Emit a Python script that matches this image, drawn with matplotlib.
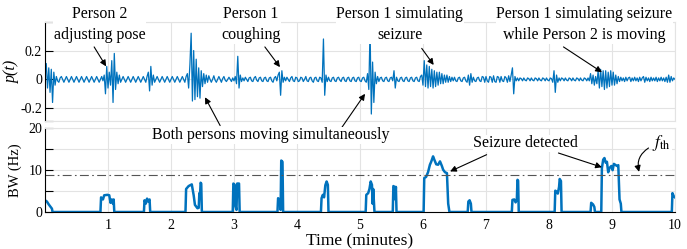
import numpy as np
import matplotlib
matplotlib.use("Agg")
import matplotlib.pyplot as plt

plt.rcParams['font.family'] = ['Liberation Serif', 'DejaVu Serif']
plt.rcParams['mathtext.fontset'] = 'stix'

p_vals = [
    0.03, 0.11, -0.06, 0.08, -0.09, 0.07, -0.16, 0.05, -0.04, 0.02, -0.01, -0.02, 0.01, 0.02, 0.0, -0.02, 0.0, 0.02, 0.0, -0.02, 0.0, 0.02, 0.0, -0.02, 0.0,
    0.02, 0.0, -0.02, 0.0, 0.02, 0.0, -0.02, 0.0, 0.02, 0.0, -0.02, 0.0, 0.02, 0.0, -0.02, 0.0, 0.02, 0.0, -0.02, 0.0, 0.02, -0.01, 0.03, -0.1, 0.09,
    -0.06, 0.05, -0.04, 0.13, -0.16, 0.18, -0.07, 0.05, -0.03, 0.03, -0.02, 0.0, 0.02, 0.0, -0.02, 0.0, 0.02, 0.0, -0.02, 0.0, 0.02, 0.0, -0.02, 0.0, 0.02,
    0.0, -0.02, 0.0, 0.02, 0.0, -0.02, 0.02, 0.05, -0.08, 0.09, -0.04, 0.03, -0.02, 0.0, 0.02, 0.0, -0.02, 0.0, 0.02, 0.0, -0.02, 0.0, 0.02, 0.0, -0.02,
    0.0, 0.02, 0.0, -0.02, 0.0, 0.02, 0.0, -0.02, 0.0, 0.02, 0.0, -0.02, 0.02, 0.04, -0.06, 0.1, 0.32, -0.15, 0.2, -0.14, 0.14, -0.12, 0.08, -0.13, 0.06,
    -0.05, 0.04, -0.03, 0.03, -0.02, 0.025, 0.0, -0.02, 0.0, 0.025, -0.005, -0.02, 0.0, 0.02, 0.0, -0.02, 0.005, 0.02, -0.005, -0.015, 0.0, 0.015, 0.0, -0.015, 0.01,
    -0.01, 0.02, -0.03, 0.16, -0.06, 0.03, -0.015, 0.01, -0.01, 0.015, 0.0, -0.015, 0.01, 0.015, -0.01, -0.015, 0.01, 0.02, -0.005, -0.015, 0.01, 0.015, -0.01, -0.015, 0.01,
    0.015, -0.01, -0.015, 0.01, 0.015, -0.01, -0.02, 0.01, 0.02, -0.01, 0.03, 0.05, -0.11, 0.06, -0.02, 0.015, -0.01, 0.015, 0.0, -0.015, 0.01, 0.02, -0.01, -0.015, 0.015,
    0.01, -0.015, -0.01, 0.015, 0.01, -0.015, 0.0, 0.02, -0.01, -0.015, 0.01, 0.015, -0.01, -0.02, 0.01, 0.015, -0.01, -0.015, 0.015, 0.01, -0.02, 0.28, -0.11, 0.03, -0.015,
    0.015, -0.01, -0.015, 0.01, 0.015, -0.01, -0.015, 0.01, 0.015, -0.005, -0.015, 0.01, 0.015, -0.01, -0.015, 0.01, 0.015, -0.01, -0.015, 0.01, 0.015, -0.01, -0.015, 0.01, 0.015,
    -0.01, -0.015, 0.01, 0.015, -0.01, -0.02, 0.04, -0.07, 0.35, -0.24, 0.12, -0.16, 0.05, -0.03, 0.02, -0.015, 0.01, 0.015, -0.01, -0.015, 0.01, 0.015, -0.01, -0.015, 0.01,
    0.015, -0.01, 0.06, -0.06, 0.015, -0.01, -0.015, 0.01, 0.015, -0.01, -0.015, 0.01, 0.015, -0.01, -0.015, 0.01, 0.015, -0.01, -0.015, 0.01, 0.015, -0.01, -0.015, 0.02, 0.03,
    -0.04, 0.13, -0.05, 0.1, -0.06, 0.09, -0.05, 0.07, -0.06, 0.06, -0.05, 0.05, -0.04, 0.05, -0.03, 0.04, -0.03, 0.03, -0.02, 0.03, -0.02, 0.02, -0.015, 0.015, -0.01,
    0.015, -0.01, -0.015, 0.01, 0.015, -0.01, -0.015, 0.01, 0.015, -0.01, -0.02, 0.03, -0.04, 0.04, -0.02, 0.015, -0.01, -0.015, 0.01, 0.015, -0.01, -0.015, 0.02, 0.015, -0.02,
    0.02, -0.01, -0.02, 0.02, 0.015, -0.02, 0.025, -0.015, -0.02, 0.02, 0.015, -0.02, 0.02, -0.01, -0.015, 0.02, 0.01, -0.02, 0.025, -0.015, 0.03, 0.08, -0.1, 0.02, -0.01,
    0.01, -0.01, 0.01, 0.005, -0.01, 0.01, -0.005, -0.01, 0.01, 0.005, -0.01, 0.01, -0.005, -0.01, 0.01, 0.005, -0.01, 0.01, -0.005, -0.01, 0.01, 0.005, -0.01, 0.01, -0.005,
    -0.01, 0.01, 0.005, -0.02, 0.06, -0.09, 0.03, -0.02, 0.01, -0.01, 0.01, 0.005, -0.01, 0.01, -0.005, -0.01, 0.01, 0.005, -0.01, 0.01, -0.005, -0.01, 0.01, 0.005, -0.01,
    0.01, -0.005, -0.01, 0.01, 0.005, -0.01, 0.01, -0.01, 0.04, -0.03, 0.03, -0.04, 0.02, -0.03, 0.06, -0.06, 0.07, -0.05, 0.06, -0.07, 0.06, -0.06, 0.05, -0.05, 0.06,
    -0.04, 0.05, -0.04, 0.03, -0.03, 0.02, -0.015, 0.015, -0.01, 0.01, -0.015, 0.015, -0.01, 0.01, 0.015, -0.015, 0.01, -0.01, 0.015, -0.01, 0.01, -0.015, 0.015, -0.01, 0.01,
    0.02, -0.02, 0.015, -0.01, 0.01, -0.015, 0.015, -0.01, 0.01, -0.01, 0.015, -0.015, 0.01, -0.01, 0.015, -0.01, 0.01, -0.015, 0.015, -0.02, 0.03, -0.02, 0.02, -0.01, 0.01,
    0.0,
]
p_time = np.linspace(0, 10, len(p_vals))

# bandwidth trace (minutes, Hz)
bw_time = [0, 0.03, 0.06, 0.09, 0.11, 0.12,
           0.88, 0.89, 0.92, 0.94, 0.99, 1.02, 1.04, 1.06, 1.08, 1.09, 1.10,
           1.57, 1.58, 1.60, 1.62, 1.64, 1.66, 1.67,
           2.23, 2.24, 2.28, 2.33, 2.36, 2.38, 2.42, 2.44, 2.45, 2.46, 2.47, 2.48, 2.49,
           2.98, 2.99, 3.01, 3.02, 3.04, 3.05, 3.08, 3.09,
           3.69, 3.70, 3.73, 3.74, 3.75, 3.77, 3.78,
           4.38, 4.39, 4.41, 4.43, 4.45, 4.47, 4.49, 4.50,
           5.09, 5.10, 5.13, 5.15, 5.17, 5.19, 5.20, 5.21, 5.23,
           5.52, 5.53, 5.55, 5.56, 5.57, 5.58,
           6.01, 6.02, 6.05, 6.08, 6.11, 6.13, 6.16, 6.18, 6.21, 6.24, 6.27, 6.30, 6.32, 6.35, 6.38, 6.40, 6.42,
           6.71, 6.72, 6.74, 6.76, 6.77,
           7.41, 7.42, 7.45, 7.47, 7.49, 7.50, 7.51, 7.52,
           8.09, 8.10, 8.12, 8.14, 8.16, 8.17, 8.19, 8.20,
           8.66, 8.67, 8.70, 8.72, 8.73,
           8.83, 8.84, 8.86, 8.88, 8.90, 8.92, 8.94, 8.96, 8.99, 9.01, 9.03, 9.05, 9.08, 9.10, 9.12, 9.14, 9.15,
           9.95, 9.96, 9.98, 10.0]
bw_vals = [2.8, 2.5, 1.8, 1.2, 0.8, 0,
           0, 3.5, 3.0, 4.0, 4.1, 4.0, 2.2, 3.0, 2.0, 3.0, 0,
           0, 2.8, 2.0, 3.2, 2.5, 3.0, 0,
           0, 5.5, 6.2, 6.6, 4.0, 1.7, 0.9, 1.0, 4.5, 3.5, 7.0, 6.8, 0,
           0, 6.8, 6.5, 1.5, 0.5, 6.8, 6.8, 0,
           0, 3.3, 2.8, 0.5, 12.3, 12.0, 0,
           0, 3.3, 4.1, 3.5, 6.4, 7.3, 6.5, 0,
           0, 4.1, 4.5, 5.5, 7.3, 6.5, 2.0, 5.5, 0,
           0, 6.2, 6.0, 3.0, 6.0, 0,
           0, 8.1, 8.4, 9.5, 11.3, 12.0, 13.3, 12.5, 11.4, 11.3, 12.1, 11.0, 10.1, 9.5, 9.3, 2.0, 0,
           0, 2.5, 2.8, 2.0, 0,
           0, 2.9, 3.0, 2.3, 3.0, 7.7, 7.5, 0,
           0, 5.1, 4.8, 4.4, 6.0, 7.9, 7.4, 0,
           0, 2.2, 1.8, 1.2, 0,
           0, 10.5, 12.5, 12.9, 11.8, 12.0, 9.5, 10.5, 11.0, 10.0, 11.5, 11.3, 11.0, 11.2, 3.0, 2.0, 0,
           0, 4.5, 3.8, 3.5]
f_th = 8.8

blue = '#0072BD'
grid_c = '#e3e3e3'

fig = plt.figure(figsize=(6.87, 2.49), dpi=100)
ax1 = fig.add_axes([0.0655, 0.516, 0.917, 0.397])
ax2 = fig.add_axes([0.0655, 0.1486, 0.917, 0.336])

ax1.plot(p_time, p_vals, color=blue, lw=0.9)
ax2.plot(bw_time, bw_vals, color=blue, lw=1.8)
ax2.axhline(f_th, color='#555555', lw=0.8, ls=(0, (8, 3, 1.5, 3)))

for ax in (ax1, ax2):
    ax.set_xlim(0, 10)
    ax.set_xticks(range(0, 11))
    ax.grid(True, color=grid_c, lw=0.8)
    ax.set_axisbelow(True)
    ax.tick_params(axis='y', direction='in', length=6, width=0.8, pad=2, labelsize=10)
    ax.tick_params(axis='x', length=0, labelsize=10, pad=5)
    for s in ('top', 'right', 'bottom'):
        ax.spines[s].set_color(grid_c)
    ax.spines['left'].set_color('k')

ax1.set_ylim(-0.285, 0.4)
ax1.set_yticks([-0.285, -0.2, 0, 0.2, 0.4])
ax1.set_yticklabels(['', '-0.2', '0', '0.2', ''])
ax1.set_xticklabels([])
ax1.set_ylabel('p(t)', fontsize=11.5, style='italic')
ax1.yaxis.set_label_coords(-0.04, 0.5)

ax2.set_ylim(0, 20)
ax2.set_yticks([0, 5, 10, 15, 20])
ax2.set_yticklabels(['0', '', '10', '', '20'])
ax2.set_xticklabels([''] + [str(i) for i in range(1, 11)])
ax2.spines['bottom'].set_color('k')
ax2.set_ylabel('BW (Hz)', fontsize=10.5)
ax2.yaxis.set_label_coords(-0.036, 0.5)
ax2.set_xlabel('Time (minutes)', fontsize=12.5, labelpad=1)

box = dict(facecolor='white', edgecolor='none', pad=0.5)
arr = dict(arrowstyle='-|>', color='k', lw=0.8, mutation_scale=9, shrinkA=0, shrinkB=0)
fs = 11.5

ax1.text(0.87, 0.38, 'Person 2\nadjusting pose', ha='center', va='center',
         fontsize=fs, linespacing=1.45, bbox=box, clip_on=False)
ax1.annotate('', xy=(0.97, 0.09), xytext=(0.78, 0.225), arrowprops=arr)

ax1.text(3.27, 0.38, 'Person 1\ncoughing', ha='center', va='center',
         fontsize=fs, linespacing=1.45, bbox=box, clip_on=False)
ax1.annotate('', xy=(3.73, 0.085), xytext=(3.49, 0.225), arrowprops=arr)

ax1.text(5.63, 0.38, 'Person 1 simulating\nseizure', ha='center', va='center',
         fontsize=fs, linespacing=1.45, bbox=box, clip_on=False)
ax1.annotate('', xy=(6.17, 0.1), xytext=(5.98, 0.215), arrowprops=arr)

ax1.text(8.56, 0.38, 'Person 1 simulating seizure\nwhile Person 2 is moving', ha='center',
         va='center', fontsize=fs, linespacing=1.45, bbox=box, clip_on=False)
ax1.annotate('', xy=(8.84, 0.05), xytext=(8.23, 0.225), arrowprops=arr)

ax2.text(3.58, 18.3, 'Both persons moving simultaneously', ha='center', va='center',
         fontsize=fs, bbox=box, clip_on=False)
ax1.annotate('', xy=(2.54, -0.124), xytext=(2.78, -0.32), arrowprops=arr,
             annotation_clip=False)
ax1.annotate('', xy=(5.08, -0.1), xytext=(4.71, -0.334), arrowprops=arr,
             annotation_clip=False)

ax2.text(7.63, 16.4, 'Seizure detected', ha='center', va='center',
         fontsize=fs, bbox=box)
ax2.annotate('', xy=(6.43, 9.7), xytext=(7.01, 13.7), arrowprops=arr)
ax2.annotate('', xy=(8.84, 10.7), xytext=(8.15, 14.1), arrowprops=arr)

ax2.text(9.79, 16.4, r'$f_{\mathrm{th}}$', ha='center', va='center', fontsize=12.5, bbox=box)
ax2.annotate('', xy=(9.43, 9.6), xytext=(9.58, 15.3),
             arrowprops=dict(arr, connectionstyle='arc3,rad=0.35'))

fig.savefig('out.png', dpi=100)
